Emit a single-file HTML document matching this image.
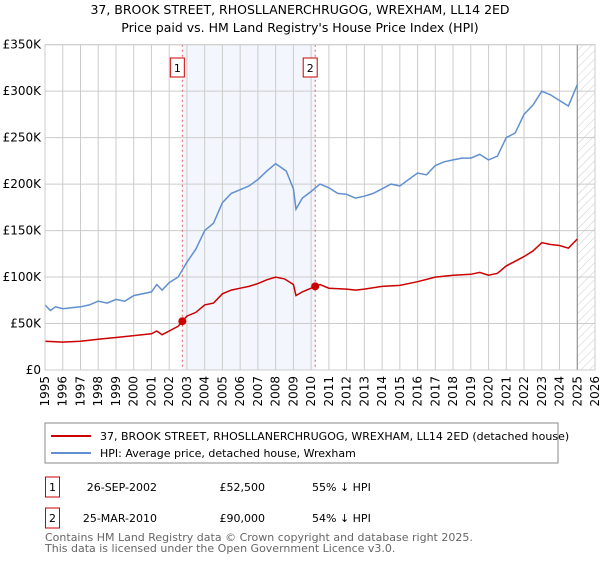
<!DOCTYPE html>
<html><head><meta charset="utf-8"><style>
body{margin:0;background:#fff;font-family:"DejaVu Sans","Liberation Sans",sans-serif;}
svg text{font-family:"DejaVu Sans","Liberation Sans",sans-serif;}
</style></head><body>
<svg id="chart" width="600" height="560" xmlns="http://www.w3.org/2000/svg">
<defs><pattern id="hatch" width="6" height="6" patternUnits="userSpaceOnUse" patternTransform="rotate(45)"><line x1="0" y1="0" x2="0" y2="6" stroke="#ccc" stroke-width="1"/></pattern></defs>
<text x="300" y="14" text-anchor="middle" font-size="12.5">37, BROOK STREET, RHOSLLANERCHRUGOG, WREXHAM, LL14 2ED</text>
<text x="300" y="32" text-anchor="middle" font-size="12.5">Price paid vs. HM Land Registry's House Price Index (HPI)</text>
<g id="plot"></g>
<rect x="45" y="423" width="513" height="40" fill="#fff" stroke="#888"/>
<line x1="51" y1="436" x2="91" y2="436" stroke="#cc0000" stroke-width="2"/>
<text x="100" y="440" font-size="11">37, BROOK STREET, RHOSLLANERCHRUGOG, WREXHAM, LL14 2ED (detached house)</text>
<line x1="51" y1="453" x2="91" y2="453" stroke="#6090d0" stroke-width="2"/>
<text x="100" y="457" font-size="11">HPI: Average price, detached house, Wrexham</text>
<g font-size="11">
<rect x="45.5" y="477" width="14" height="20" fill="#fff" stroke="#cc0000"/><text x="52.5" y="491" text-anchor="middle">1</text>
<text x="157" y="491" text-anchor="end">26-SEP-2002</text><text x="265" y="491" text-anchor="end">£52,500</text><text x="312" y="491">55% ↓ HPI</text>
<rect x="45.5" y="508" width="14" height="20" fill="#fff" stroke="#cc0000"/><text x="52.5" y="522" text-anchor="middle">2</text>
<text x="157" y="522" text-anchor="end">25-MAR-2010</text><text x="265" y="522" text-anchor="end">£90,000</text><text x="312" y="522">54% ↓ HPI</text>
</g>
<text x="45" y="541" font-size="11" fill="#666">Contains HM Land Registry data © Crown copyright and database right 2025.</text>
<text x="45" y="552" font-size="11" fill="#666">This data is licensed under the Open Government Licence v3.0.</text>
</svg>
<script>
const hpiYears=[1995,1995.3,1995.6,1996,1997,1997.5,1998,1998.5,1999,1999.5,2000,2001,2001.3,2001.6,2002,2002.5,2003,2003.5,2004,2004.5,2005,2005.5,2006,2006.5,2007,2007.5,2008,2008.3,2008.6,2009,2009.15,2009.5,2010,2010.5,2011,2011.5,2012,2012.5,2013,2013.5,2014,2014.5,2015,2015.5,2016,2016.5,2017,2017.5,2018,2018.5,2019,2019.5,2020,2020.5,2021,2021.5,2022,2022.5,2023,2023.5,2024,2024.5,2025];
const hpiValues=[70,64,68,66,68,70,74,72,76,74,80,84,92,86,94,100,116,130,150,158,180,190,194,198,205,214,222,218,214,195,173,185,192,200,196,190,189,185,187,190,195,200,198,205,212,210,220,224,226,228,228,232,226,230,250,255,275,285,300,296,290,284,307];
const priceYears=[1995,1996,1997,1998,1999,2000,2001,2001.3,2001.6,2002,2002.5,2002.74,2003,2003.5,2004,2004.5,2005,2005.5,2006,2006.5,2007,2007.5,2008,2008.5,2009,2009.15,2009.5,2010.23,2010.5,2011,2012,2012.5,2013,2014,2015,2016,2017,2018,2019,2019.5,2020,2020.5,2021,2022,2022.5,2023,2023.5,2024,2024.5,2025];
const priceValues=[31,30,31,33,35,37,39,42,38,42,47,52.5,58,62,70,72,82,86,88,90,93,97,100,98,92,80,84,90,92,88,87,86,87,90,91,95,100,102,103,105,102,104,112,122,128,137,135,134,131,141];
const saleYears=[2002.74,2010.23];
const saleValues=[52.5,90];
const yTicks=[0,50,100,150,200,250,300,350];
const yTickLabels=["£0","£50K","£100K","£150K","£200K","£250K","£300K","£350K"];
const xTicks=[1995,1996,1997,1998,1999,2000,2001,2002,2003,2004,2005,2006,2007,2008,2009,2010,2011,2012,2013,2014,2015,2016,2017,2018,2019,2020,2021,2022,2023,2024,2025,2026];
const NS="http://www.w3.org/2000/svg";
const L=45,R=595,T=44.7,B=370;
const x=v=>L+(v-1995)/(2026-1995)*(R-L);
const y=v=>B-v/350*(B-T);
const g=document.getElementById('plot');
function mk(tag,attrs){const e=document.createElementNS(NS,tag);for(const k in attrs)e.setAttribute(k,attrs[k]);g.appendChild(e);return e;}
let e;
e=mk('rect',{x:x(saleYears[0]),y:T,width:x(saleYears[1])-x(saleYears[0]),height:B-T,fill:'#eef2fc',opacity:0.7});


e=mk('rect',{x:x(2025),y:T,width:R-x(2025),height:B-T,fill:'url(#hatch)'});


yTicks.forEach((t,i)=>{
 e=mk('line',{x1:L,x2:R,y1:y(t),y2:y(t),stroke:'#ccc'});
 
 
 e=mk('text',{x:L-4,y:y(t)+4,'text-anchor':'end','font-size':12});e.textContent=yTickLabels[i];
 
 
});
xTicks.forEach(t=>{
 e=mk('line',{x1:x(t),x2:x(t),y1:T,y2:B,stroke:'#ccc'});
 
 
 e=mk('text',{x:0,y:0,'font-size':12,'text-anchor':'end',transform:`translate(${x(t)+4},${B+6}) rotate(-90)`});e.textContent=t;
 
 
});
e=mk('line',{x1:x(2025),x2:x(2025),y1:T,y2:B,stroke:'#888'});


saleYears.forEach((s,i)=>{
 e=mk('line',{x1:x(s),x2:x(s),y1:T,y2:B,stroke:'#e06060','stroke-dasharray':'2,3'});
 
 
 e=mk('rect',{x:x(s)-12,y:58,width:14,height:19,fill:'#fff',stroke:'#cc0000'});
 
 
 e=mk('text',{x:x(s)-5,y:72,'text-anchor':'middle','font-size':11});e.textContent=String(i+1);
 
 
});
e=mk('path',{d:hpiYears.map((v,i)=>(i?'L':'M')+x(v).toFixed(1)+','+y(hpiValues[i]).toFixed(1)).join(''),fill:'none',stroke:'#6090d0','stroke-width':1.5});


e=mk('path',{d:priceYears.map((v,i)=>(i?'L':'M')+x(v).toFixed(1)+','+y(priceValues[i]).toFixed(1)).join(''),fill:'none',stroke:'#cc0000','stroke-width':1.5});


saleYears.forEach((s,i)=>{
 e=mk('circle',{cx:x(s),cy:y(saleValues[i]),r:4,fill:'#cc0000'});
 
 
});
e=mk('rect',{x:L,y:T,width:R-L,height:B-T,fill:'none',stroke:'#ccc'});


</script>
</body></html>
